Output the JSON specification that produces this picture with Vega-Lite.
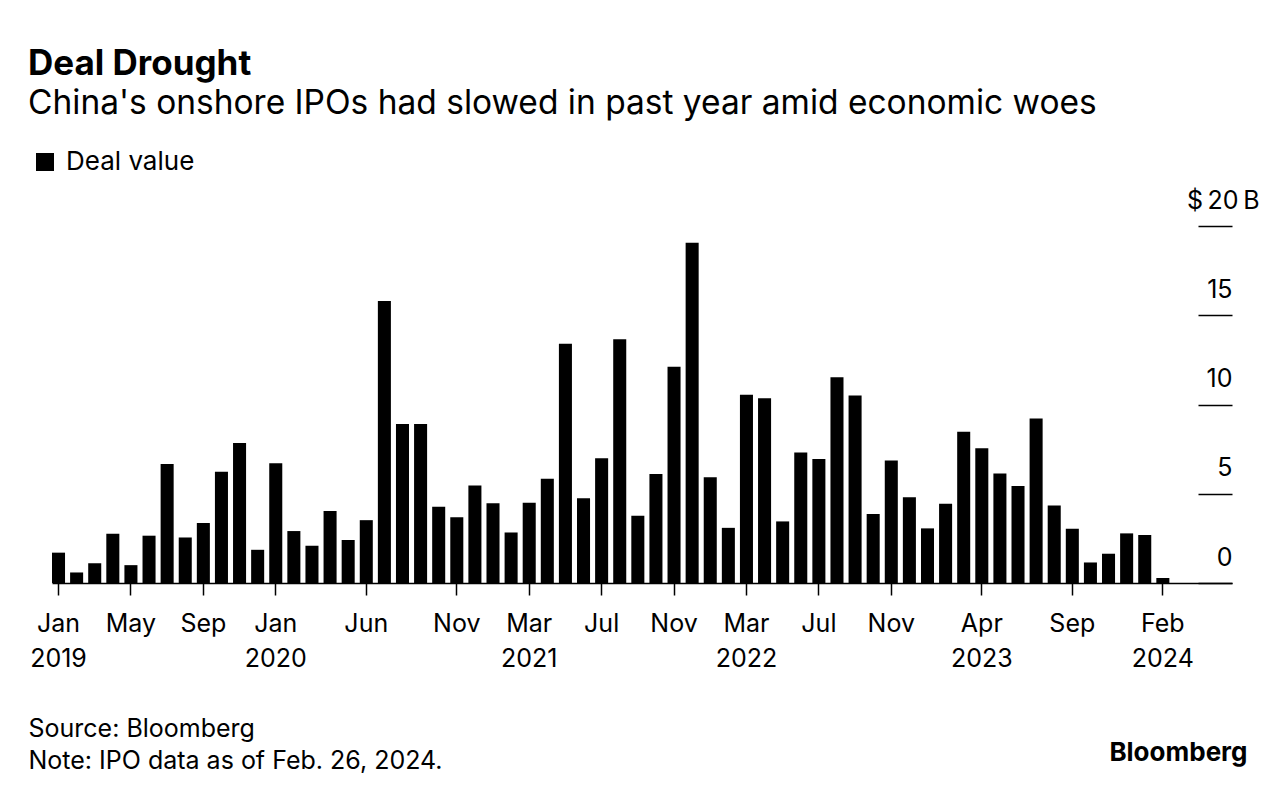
{
  "$schema": "https://vega.github.io/schema/vega-lite/v6.json",
  "width": 1180,
  "height": 357,
  "autosize": "none",
  "padding": {"left": 52, "top": 226, "right": 54, "bottom": 215},
  "background": "white",
  "config": {"font": "Inter", "view": {"stroke": null}},
  "title": {
    "text": "Deal Drought",
    "subtitle": "China's onshore IPOs had slowed in past year amid economic woes",
    "anchor": "start",
    "frame": "group",
    "dx": -24,
    "offset": 29,
    "fontSize": 35,
    "fontWeight": "bold",
    "color": "#000",
    "subtitleFontSize": 33.5,
    "subtitleColor": "#000",
    "subtitlePadding": 6
  },
  "data": {
    "values": [
      {"month": "2019-01", "value": 1.70},
      {"month": "2019-02", "value": 0.59},
      {"month": "2019-03", "value": 1.10},
      {"month": "2019-04", "value": 2.76},
      {"month": "2019-05", "value": 1.00},
      {"month": "2019-06", "value": 2.65},
      {"month": "2019-07", "value": 6.66},
      {"month": "2019-08", "value": 2.55},
      {"month": "2019-09", "value": 3.36},
      {"month": "2019-10", "value": 6.23},
      {"month": "2019-11", "value": 7.85},
      {"month": "2019-12", "value": 1.86},
      {"month": "2020-01", "value": 6.71},
      {"month": "2020-02", "value": 2.91},
      {"month": "2020-03", "value": 2.09},
      {"month": "2020-04", "value": 4.03},
      {"month": "2020-05", "value": 2.41},
      {"month": "2020-06", "value": 3.52},
      {"month": "2020-07", "value": 15.80},
      {"month": "2020-08", "value": 8.91},
      {"month": "2020-09", "value": 8.91},
      {"month": "2020-10", "value": 4.27},
      {"month": "2020-11", "value": 3.69},
      {"month": "2020-12", "value": 5.46},
      {"month": "2021-01", "value": 4.47},
      {"month": "2021-02", "value": 2.83},
      {"month": "2021-03", "value": 4.49},
      {"month": "2021-04", "value": 5.84},
      {"month": "2021-05", "value": 13.41},
      {"month": "2021-06", "value": 4.75},
      {"month": "2021-07", "value": 6.99},
      {"month": "2021-08", "value": 13.65},
      {"month": "2021-09", "value": 3.77},
      {"month": "2021-10", "value": 6.10},
      {"month": "2021-11", "value": 12.12},
      {"month": "2021-12", "value": 19.06},
      {"month": "2022-01", "value": 5.93},
      {"month": "2022-02", "value": 3.09},
      {"month": "2022-03", "value": 10.54},
      {"month": "2022-04", "value": 10.35},
      {"month": "2022-05", "value": 3.45},
      {"month": "2022-06", "value": 7.31},
      {"month": "2022-07", "value": 6.94},
      {"month": "2022-08", "value": 11.53},
      {"month": "2022-09", "value": 10.50},
      {"month": "2022-10", "value": 3.86},
      {"month": "2022-11", "value": 6.86},
      {"month": "2022-12", "value": 4.81},
      {"month": "2023-01", "value": 3.06},
      {"month": "2023-02", "value": 4.44},
      {"month": "2023-03", "value": 8.48},
      {"month": "2023-04", "value": 7.55},
      {"month": "2023-05", "value": 6.13},
      {"month": "2023-06", "value": 5.43},
      {"month": "2023-07", "value": 9.21},
      {"month": "2023-08", "value": 4.34},
      {"month": "2023-09", "value": 3.04},
      {"month": "2023-10", "value": 1.15},
      {"month": "2023-11", "value": 1.64},
      {"month": "2023-12", "value": 2.78},
      {"month": "2024-01", "value": 2.69},
      {"month": "2024-02", "value": 0.28}
    ]
  },
  "mark": {"type": "bar", "color": "#000"},
  "encoding": {
    "x": {
      "field": "month",
      "type": "ordinal",
      "sort": null,
      "scale": {
        "domain": ["2019-01","2019-02","2019-03","2019-04","2019-05","2019-06","2019-07","2019-08","2019-09","2019-10","2019-11","2019-12",
                   "2020-01","2020-02","2020-03","2020-04","2020-05","2020-06","2020-07","2020-08","2020-09","2020-10","2020-11","2020-12",
                   "2021-01","2021-02","2021-03","2021-04","2021-05","2021-06","2021-07","2021-08","2021-09","2021-10","2021-11","2021-12",
                   "2022-01","2022-02","2022-03","2022-04","2022-05","2022-06","2022-07","2022-08","2022-09","2022-10","2022-11","2022-12",
                   "2023-01","2023-02","2023-03","2023-04","2023-05","2023-06","2023-07","2023-08","2023-09","2023-10","2023-11","2023-12",
                   "2024-01","2024-02","2024-03","2024-04","2024-05"],
        "paddingInner": 0.28,
        "paddingOuter": 0.23,
        "align": 0
      },
      "axis": {
        "values": ["2019-01", "2019-05", "2019-09", "2020-01", "2020-06", "2020-11", "2021-03", "2021-07", "2021-11", "2022-03", "2022-07", "2022-11", "2023-04", "2023-09", "2024-02"],
        "labelExpr": "[['Jan','Feb','Mar','Apr','May','Jun','Jul','Aug','Sep','Oct','Nov','Dec'][toNumber(slice(datum.value,5,7))-1], indexof(['2019-01','2020-01','2021-03','2022-03','2023-04','2024-02'], datum.value) >= 0 ? slice(datum.value,0,4) : '']",
        "labelAngle": 0,
        "labelFontSize": 25,
        "labelColor": "#000",
        "labelLineHeight": 35,
        "labelPadding": 16,
        "labelBaseline": "top",
        "labelOverlap": false,
        "labelFlush": false,
        "tickSize": 12,
        "tickColor": "#000",
        "tickWidth": 1.5,
        "domainColor": "#000",
        "domainWidth": 1.5,
        "title": ["Source: Bloomberg", "Note: IPO data as of Feb. 26, 2024."],
        "titleAnchor": "start",
        "titleAlign": "left",
        "titleX": -24,
        "titleY": 133,
        "titleBaseline": "top",
        "titleFontSize": 25,
        "titleFontWeight": "normal",
        "titleLineHeight": 32,
        "titleColor": "#000"
      }
    },
    "y": {
      "field": "value",
      "type": "quantitative",
      "scale": {"domain": [0, 20]},
      "axis": {
        "orient": "right",
        "values": [0, 5, 10, 15, 20],
        "domain": false,
        "grid": false,
        "tickSize": -34,
        "tickColor": "#000",
        "tickWidth": 1.5,
        "labelExpr": "datum.value == 20 ? '$\u200920\u2009B' : datum.label",
        "labelAlign": "right",
        "labelBaseline": "alphabetic",
        "labelOffset": -18,
        "labelPadding": {"condition": {"test": "datum.value == 20", "value": 61}, "value": 34},
        "labelFontSize": 25,
        "labelColor": "#000",
        "title": "Bloomberg",
        "titleAngle": 0,
        "titleAlign": "right",
        "titleBaseline": "alphabetic",
        "titleX": 15,
        "titleY": 534,
        "titleFontSize": 26,
        "titleFontWeight": "bold",
        "titleColor": "#000"
      }
    },
    "color": {
      "datum": "Deal value",
      "scale": {"range": ["#000"]},
      "legend": {
        "orient": "none",
        "legendX": -20,
        "legendY": -77,
        "title": null,
        "symbolType": "square",
        "symbolSize": 324,
        "symbolStrokeWidth": 0,
        "labelFontSize": 26,
        "labelColor": "#000",
        "labelOffset": 8
      }
    }
  }
}
